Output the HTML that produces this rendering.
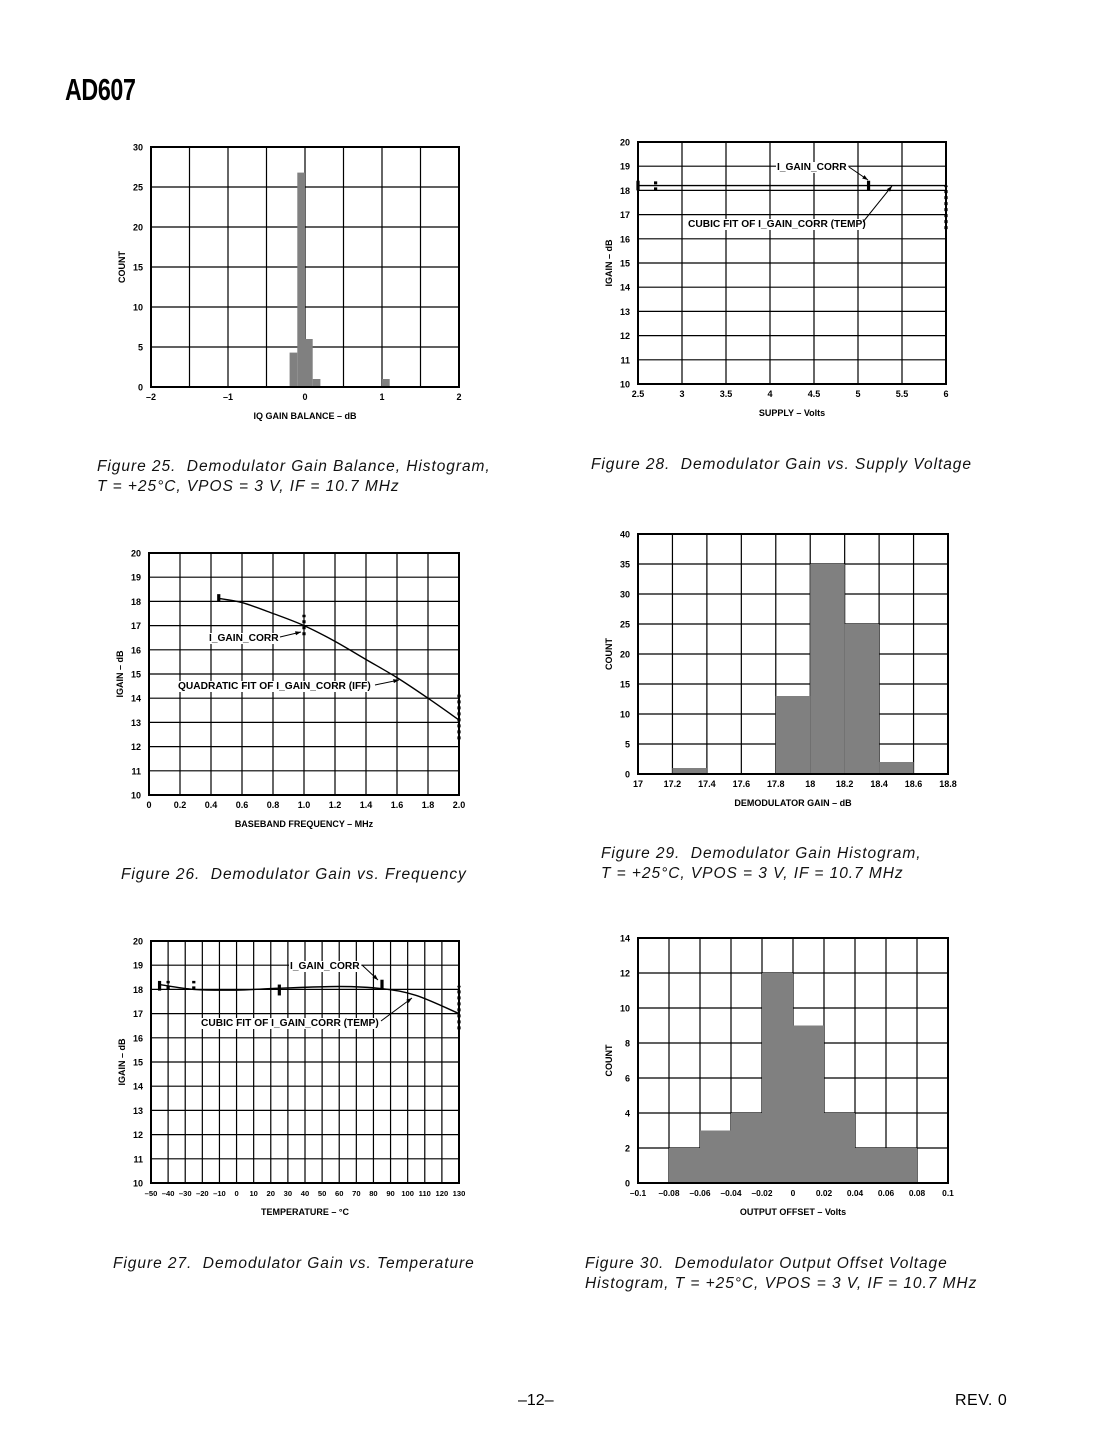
<!DOCTYPE html>
<html><head><meta charset="utf-8">
<style>
html,body{margin:0;padding:0;background:#fff;}
body{width:1105px;height:1430px;position:relative;overflow:hidden;font-family:"Liberation Sans",Arial,sans-serif;}
.cap{position:absolute;font-style:italic;font-size:15.5px;letter-spacing:0.95px;line-height:20px;color:#111;white-space:nowrap;}
</style></head>
<body>
<div style="position:absolute;left:65px;top:72px;font-family:'Liberation Sans Narrow','Liberation Sans',sans-serif;font-weight:bold;font-size:31px;letter-spacing:-0.5px;transform:scaleX(0.75);transform-origin:left top;">AD607</div>

<div class="cap" style="left:97px;top:457px;">Figure 25.&nbsp; Demodulator Gain Balance, Histogram,<br>T = +25°C, VPOS = 3 V, IF = 10.7 MHz</div>
<div class="cap" style="left:591px;top:455px;">Figure 28.&nbsp; Demodulator Gain vs. Supply Voltage</div>
<div class="cap" style="left:121px;top:865px;">Figure 26.&nbsp; Demodulator Gain vs. Frequency</div>
<div class="cap" style="left:601px;top:844px;">Figure 29.&nbsp; Demodulator Gain Histogram,<br>T = +25°C, VPOS = 3 V, IF = 10.7 MHz</div>
<div class="cap" style="left:113px;top:1254px;">Figure 27.&nbsp; Demodulator Gain vs. Temperature</div>
<div class="cap" style="left:585px;top:1254px;">Figure 30.&nbsp; Demodulator Output Offset Voltage<br>Histogram, T = +25°C, VPOS = 3 V, IF = 10.7 MHz</div>
<div style="position:absolute;left:518px;top:1392px;font-size:16px;">–12–</div>
<div style="position:absolute;left:955px;top:1392px;font-size:16px;letter-spacing:0.5px;">REV. 0</div>

<svg id="page" width="1105" height="1430" style="position:absolute;left:0;top:0;font-family:'Liberation Sans',Arial,sans-serif;"></svg>

<script>
// ---- Figure 25 data ----
const f25BinStart = [-0.2, -0.1, 0.0, 0.1, 1.0];
const f25Counts = [4.3, 26.8, 6, 1, 1];
const f25XTicks = ["–2", "–1", "0", "1", "2"];
const f25YTicks = ["0", "5", "10", "15", "20", "25", "30"];
// ---- Figure 28 data ----
const f28FitX = [2.5, 6.0];
const f28FitY = [18.2, 18.2];
const f28MarkX = [2.5, 2.7, 5.12, 6.0];
const f28MarkLo = [18.0, 18.0, 18.0, 16.4];
const f28MarkHi = [18.4, 18.4, 18.4, 18.2];
const f28MarkDot = [false, true, false, true];
const f28XTicks = ["2.5", "3", "3.5", "4", "4.5", "5", "5.5", "6"];
const f28YTicks = ["10","11","12","13","14","15","16","17","18","19","20"];
// ---- Figure 26 data ----
const f26FitX = [0.45, 0.6, 0.8, 1.0, 1.2, 1.4, 1.6, 1.8, 2.0];
const f26FitY = [18.12, 17.95, 17.5, 17.0, 16.35, 15.6, 14.85, 14.0, 13.1];
const f26MarkX = [0.45, 1.0, 2.0];
const f26MarkLo = [18.0, 16.6, 12.3];
const f26MarkHi = [18.3, 17.45, 14.15];
const f26MarkDot = [false, true, true];
const f26XTicks = ["0","0.2","0.4","0.6","0.8","1.0","1.2","1.4","1.6","1.8","2.0"];
const f26YTicks = ["10","11","12","13","14","15","16","17","18","19","20"];
// ---- Figure 29 data ----
const f29BinStart = [17.2, 17.8, 18.0, 18.2, 18.4];
const f29Counts = [1, 13, 35, 25, 2];
const f29XTicks = ["17","17.2","17.4","17.6","17.8","18","18.2","18.4","18.6","18.8"];
const f29YTicks = ["0","5","10","15","20","25","30","35","40"];
// ---- Figure 27 data ----
const f27FitX = [-45, -25, 0, 25, 60, 85, 105, 130];
const f27FitY = [18.2, 18.0, 17.97, 18.05, 18.12, 18.03, 17.75, 17.0];
const f27MarkX = [-45, -40, -25, 25, 85, 130];
const f27MarkLo = [17.95, 18.0, 18.0, 17.75, 18.0, 16.35];
const f27MarkHi = [18.35, 18.35, 18.35, 18.2, 18.4, 18.15];
const f27MarkDot = [false, true, true, false, false, true];
const f27XTicks = ["–50","–40","–30","–20","–10","0","10","20","30","40","50","60","70","80","90","100","110","120","130"];
const f27YTicks = ["10","11","12","13","14","15","16","17","18","19","20"];
// ---- Figure 30 data ----
const f30BinStart = [-0.08, -0.06, -0.04, -0.02, 0.0, 0.02, 0.04, 0.06];
const f30Counts = [2, 3, 4, 12, 9, 4, 2, 2];
const f30XTicks = ["–0.1","–0.08","–0.06","–0.04","–0.02","0","0.02","0.04","0.06","0.08","0.1"];
const f30YTicks = ["0","2","4","6","8","10","12","14"];

const NS = "http://www.w3.org/2000/svg";
const svg = document.getElementById("page");
function mk(tag, attrs, parent) {
  const e = document.createElementNS(NS, tag);
  for (const k in attrs) e.setAttribute(k, attrs[k]);
  (parent || svg).appendChild(e);
  return e;
}

function chart(c) {
  const g = mk("g", {});
  
  
  const sx = v => c.x0 + (v - c.xmin) / (c.xmax - c.xmin) * (c.x1 - c.x0);
  const sy = v => c.y1 - (v - c.ymin) / (c.ymax - c.ymin) * (c.y1 - c.y0);
  c.sx = sx; c.sy = sy; c.g = g;
  for (let i = 0; i <= c.nx; i++) {
    const x = c.x0 + i * (c.x1 - c.x0) / c.nx;
    const l = mk("line", {x1: x, x2: x, y1: c.y0, y2: c.y1, stroke: "#000", "stroke-width": 1.2}, g);
    
    
  }
  for (let i = 0; i <= c.ny; i++) {
    const y = c.y0 + i * (c.y1 - c.y0) / c.ny;
    const l = mk("line", {x1: c.x0, x2: c.x1, y1: y, y2: y, stroke: "#000", "stroke-width": 1.2}, g);
    
    
  }
  if (c.bins) {
    c.bins.forEach((b, i) => {
      const xa = sx(b), xb = sx(b + c.binW), ya = sy(c.counts[i]);
      const r = mk("rect", {x: xa, y: ya, width: xb - xa, height: sy(c.ymin) - ya, fill: "#808080"}, g);
      
      
    });
  }
  const f = mk("rect", {x: c.x0, y: c.y0, width: c.x1 - c.x0, height: c.y1 - c.y0, fill: "none", stroke: "#000", "stroke-width": 2}, g);
  
  
  if (c.fitX) {
    const pts = c.fitX.map((v, i) => [sx(v), sy(c.fitY[i])]);
    let d = "M" + pts[0][0] + "," + pts[0][1];
    for (let i = 0; i < pts.length - 1; i++) {
      const p0 = pts[Math.max(0, i - 1)], p1 = pts[i], p2 = pts[i + 1], p3 = pts[Math.min(pts.length - 1, i + 2)];
      const c1x = p1[0] + (p2[0] - p0[0]) / 6, c1y = p1[1] + (p2[1] - p0[1]) / 6;
      const c2x = p2[0] - (p3[0] - p1[0]) / 6, c2y = p2[1] - (p3[1] - p1[1]) / 6;
      d += " C" + c1x + "," + c1y + " " + c2x + "," + c2y + " " + p2[0] + "," + p2[1];
    }
    const p = mk("path", {d: d, fill: "none", stroke: "#000", "stroke-width": 1.4}, g);
    
    
  }
  if (c.markX) {
    c.markX.forEach((v, i) => {
      const x = sx(v);
      const a = {x1: x, x2: x, y1: sy(c.markLo[i]), y2: sy(c.markHi[i]), stroke: "#000", "stroke-width": 3.2};
      if (c.markDot[i]) a["stroke-dasharray"] = "3,3";
      const l = mk("line", a, g);
      
      
    });
  }
  c.xt.forEach((t, i) => {
    const x = c.x0 + i * (c.x1 - c.x0) / (c.xt.length - 1);
    const tx = mk("text", {x: x, y: c.y1 + 13, "font-size": c.xfs || 9, "font-weight": "bold", "text-anchor": "middle"}, g);
    tx.textContent = t;
    
    
  });
  c.yt.forEach((t, i) => {
    const y = c.y1 - i * (c.y1 - c.y0) / (c.yt.length - 1);
    const tx = mk("text", {x: c.x0 - 8, y: y + 3.5, "font-size": 9, "font-weight": "bold", "text-anchor": "end"}, g);
    tx.textContent = t;
    
    
  });
  const xtl = mk("text", {x: (c.x0 + c.x1) / 2, y: c.y1 + 32, "font-size": 9, "font-weight": "bold", "text-anchor": "middle"}, g);
  xtl.textContent = c.xtitle;
  
  
  const yx = c.x0 - 26, yy = (c.y0 + c.y1) / 2;
  const ytl = mk("text", {x: yx, y: yy, "font-size": 9, "font-weight": "bold", "text-anchor": "middle", transform: "rotate(-90 " + yx + " " + yy + ")"}, g);
  ytl.textContent = c.ytitle;
  
  
  return c;
}

function note(c, text, tx, ty, ax1, ay1, ax2, ay2) {
  const t = mk("text", {x: tx, y: ty, "font-size": 10.2, "font-weight": "bold"}, c.g);
  t.textContent = text;
  
  
  const bg = t.getBBox();
  const r = mk("rect", {x: bg.x - 1, y: bg.y, width: bg.width + 2, height: bg.height, fill: "#fff"}, c.g);
  c.g.insertBefore(r, t);
  const l = mk("line", {x1: ax1, y1: ay1, x2: ax2, y2: ay2, stroke: "#000", "stroke-width": 1}, c.g);
  
  
  const ang = Math.atan2(ay2 - ay1, ax2 - ax1), s = 6;
  const p = [[ax2, ay2], [ax2 - s * Math.cos(ang - 0.35), ay2 - s * Math.sin(ang - 0.35)], [ax2 - s * Math.cos(ang + 0.35), ay2 - s * Math.sin(ang + 0.35)]];
  const h = mk("polygon", {points: p.map(q => q.join(",")).join(" "), fill: "#000"}, c.g);
  
  
}

chart({name: "figure-25-chart", x0: 151, x1: 459, y0: 147, y1: 387, xmin: -2, xmax: 2, ymin: 0, ymax: 30, nx: 8, ny: 6,
  bins: f25BinStart, counts: f25Counts, binW: 0.1, xt: f25XTicks, yt: f25YTicks, xtitle: "IQ GAIN BALANCE – dB", ytitle: "COUNT"});

const c28 = chart({name: "figure-28-chart", x0: 638, x1: 946, y0: 142, y1: 384, xmin: 2.5, xmax: 6, ymin: 10, ymax: 20, nx: 7, ny: 10,
  fitX: f28FitX, fitY: f28FitY, markX: f28MarkX, markLo: f28MarkLo, markHi: f28MarkHi, markDot: f28MarkDot,
  xt: f28XTicks, yt: f28YTicks, xtitle: "SUPPLY – Volts", ytitle: "IGAIN – dB"});
note(c28, "I_GAIN_CORR", 777, 170, 849, 167, 868, 180);
note(c28, "CUBIC FIT OF I_GAIN_CORR (TEMP)", 688, 227, 863, 222, 892, 186);

const c26 = chart({name: "figure-26-chart", x0: 149, x1: 459, y0: 553, y1: 795, xmin: 0, xmax: 2, ymin: 10, ymax: 20, nx: 10, ny: 10,
  fitX: f26FitX, fitY: f26FitY, markX: f26MarkX, markLo: f26MarkLo, markHi: f26MarkHi, markDot: f26MarkDot,
  xt: f26XTicks, yt: f26YTicks, xtitle: "BASEBAND FREQUENCY – MHz", ytitle: "IGAIN – dB"});
note(c26, "I_GAIN_CORR", 209, 641, 280, 637, 301, 632);
note(c26, "QUADRATIC FIT OF I_GAIN_CORR (IFF)", 178, 689, 375, 685, 399, 680);

chart({name: "figure-29-chart", x0: 638, x1: 948, y0: 534, y1: 774, xmin: 17, xmax: 18.8, ymin: 0, ymax: 40, nx: 9, ny: 8,
  bins: f29BinStart, counts: f29Counts, binW: 0.2, xt: f29XTicks, yt: f29YTicks, xtitle: "DEMODULATOR GAIN – dB", ytitle: "COUNT"});

const c27 = chart({name: "figure-27-chart", x0: 151, x1: 459, y0: 941, y1: 1183, xmin: -50, xmax: 130, ymin: 10, ymax: 20, nx: 18, ny: 10,
  fitX: f27FitX, fitY: f27FitY, markX: f27MarkX, markLo: f27MarkLo, markHi: f27MarkHi, markDot: f27MarkDot,
  xt: f27XTicks, yt: f27YTicks, xfs: 7.6, xtitle: "TEMPERATURE – °C", ytitle: "IGAIN – dB"});
note(c27, "I_GAIN_CORR", 290, 969, 362, 965, 378, 980);
note(c27, "CUBIC FIT OF I_GAIN_CORR (TEMP)", 201, 1026, 381, 1021, 412, 998);

chart({name: "figure-30-chart", x0: 638, x1: 948, y0: 938, y1: 1183, xmin: -0.1, xmax: 0.1, ymin: 0, ymax: 14, nx: 10, ny: 7,
  bins: f30BinStart, counts: f30Counts, binW: 0.02, xt: f30XTicks, yt: f30YTicks, xfs: 8.4, xtitle: "OUTPUT OFFSET – Volts", ytitle: "COUNT"});
</script>
</body></html>
